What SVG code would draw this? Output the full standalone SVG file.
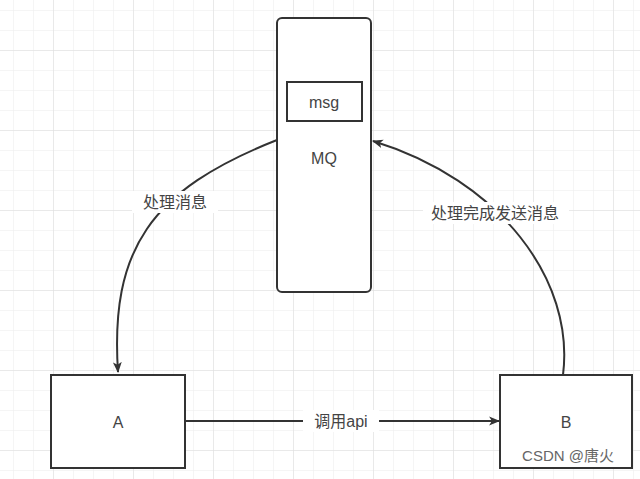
<svg xmlns="http://www.w3.org/2000/svg" width="640" height="479" viewBox="0 0 640 479">
<defs>
<pattern id="mn" width="20" height="20" patternUnits="userSpaceOnUse" x="13" y="10"><path d="M0 0H20M0 0V20" fill="none" stroke="#ebebeb" stroke-width="1"/></pattern>
<pattern id="mj" width="80" height="80" patternUnits="userSpaceOnUse" x="53" y="50"><path d="M0 0H80M0 0V80" fill="none" stroke="#dddddd" stroke-width="1"/></pattern>
<marker id="ar" viewBox="0 0 10 10" refX="9" refY="5" markerWidth="11" markerHeight="11" markerUnits="userSpaceOnUse" orient="auto"><path d="M0 1L10 5L0 9L2.5 5Z" fill="#333"/></marker>
</defs>
<style>
.n{fill:#fff;stroke:#333;stroke-width:2}
.t{font-family:"Liberation Sans","Noto Sans CJK SC",sans-serif;font-size:16px;fill:#444;text-anchor:middle;dominant-baseline:central}
.c{fill:none;stroke:#333;stroke-width:2}
.lb{fill:#fff}
</style>
<rect width="640" height="479" fill="#fff"/>
<rect width="640" height="479" fill="url(#mn)"/>
<rect width="640" height="479" fill="url(#mj)"/>
<g id="connectors">
<path class="c" d="M277 140C150 190 110 250 118 372" marker-end="url(#ar)"/>
<path class="c" d="M563 375C575 280 500 180 373 141" marker-end="url(#ar)"/>
<path class="c" d="M185 421H499" marker-end="url(#ar)"/>
<rect class="lb" x="132" y="191" width="86" height="22"/>
<text class="t" x="175" y="202">处理消息</text>
<rect class="lb" x="423" y="202" width="146" height="22"/>
<text class="t" x="495" y="213">处理完成发送消息</text>
<rect class="lb" x="303" y="410" width="76" height="22"/>
<text class="t" x="341" y="421">调用api</text>
</g>
<g id="MQ"><rect class="n" x="277" y="18" width="94" height="274" rx="5"/><text class="t" x="324" y="158" font-size="18">MQ</text></g>
<g id="msg"><rect class="n" x="287" y="82" width="75" height="39" fill="none"/><text class="t" x="324" y="102">msg</text></g>
<g id="A"><rect class="n" x="51" y="375" width="134" height="93"/><text class="t" x="118" y="422">A</text></g>
<g id="B"><rect class="n" x="500" y="375" width="132" height="93"/><text class="t" x="566" y="422">B</text></g>
<text x="568" y="461" font-family="Liberation Sans,Noto Sans CJK SC,sans-serif" font-size="15" fill="#666" text-anchor="middle">CSDN @唐火</text>
</svg>
